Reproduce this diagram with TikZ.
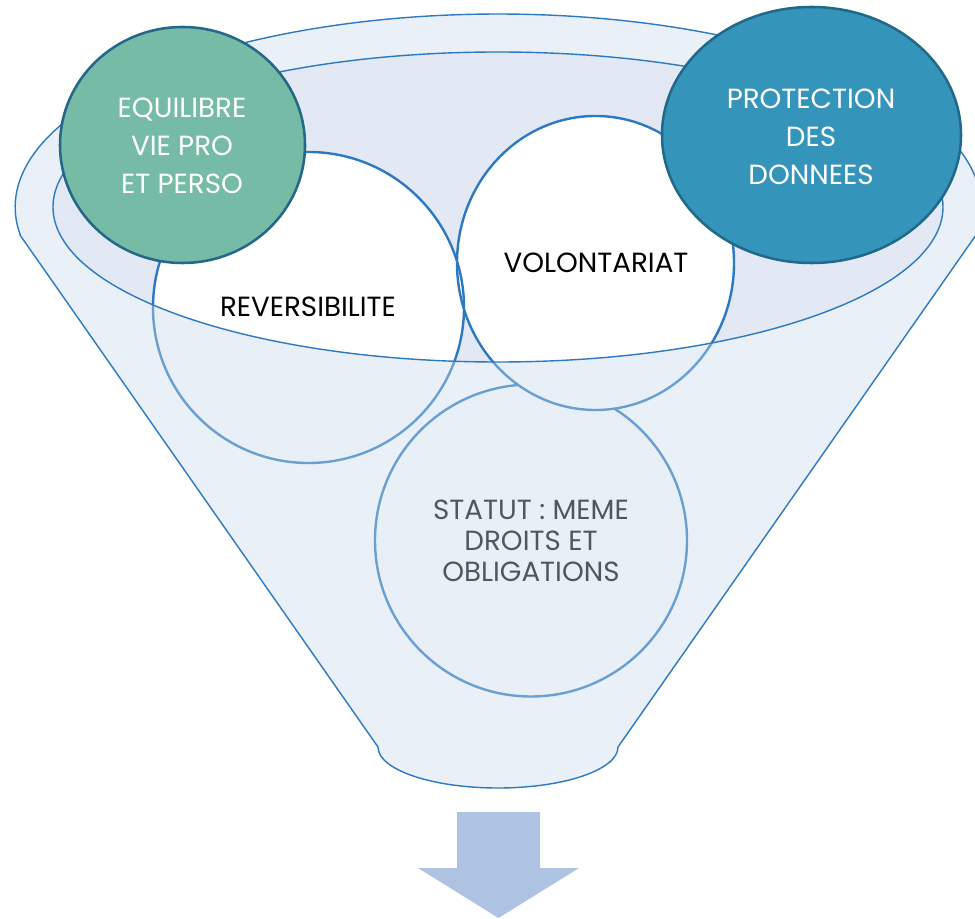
\documentclass[tikz,border=0pt]{standalone}
\usepackage{fontspec}
\setmainfont{Poppins}
\definecolor{lineblue}{HTML}{2C79C2}
\definecolor{innerfill}{HTML}{E2E9F4}
\definecolor{veil}{HTML}{C9D9EC}
\definecolor{greenfill}{HTML}{75BBA5}
\definecolor{greenline}{HTML}{23678A}
\definecolor{bluefill}{HTML}{3594BA}
\definecolor{blueline}{HTML}{21698A}
\definecolor{arrowfill}{HTML}{AEC3E1}
\tikzset{
  funnelline/.style={draw=lineblue, line width=1.05pt},
  backcircle/.style={draw=lineblue, line width=1.8pt},
  label/.style={font=\fontsize{20.8}{28.5}\selectfont, align=center, inner sep=0pt},
}
\begin{document}
\begin{tikzpicture}[x=0.75pt,y=-0.75pt]
\useasboundingbox (0,0) rectangle (975,919);
\clip (0,0) rectangle (975,919);
% inner top of funnel
\fill[innerfill] (498,207) ellipse[x radius=445, y radius=155];
% back circles
\fill[white] (531,540.5) circle[radius=156];
\draw[backcircle] (531,540.5) circle[radius=156];
\node[label, font=\fontsize{20.8}{23.25}\selectfont] (statut) at (531,541) {STATUT : MEME\\DROITS ET\\OBLIGATIONS};
\fill[white] (308.5,307.5) circle[radius=155.5];
\fill[white] (595.5,263) ellipse[x radius=138.5, y radius=147];
\draw[backcircle] (308.5,307.5) circle[radius=155.5];
\draw[backcircle] (595.5,263) ellipse[x radius=138.5, y radius=147];
\node[label] (rev) at (308,307) {REVERSIBILITE};
\node[label] (vol) at (596,263) {VOLONTARIAT};
% front veil of the funnel
\fill[veil, fill opacity=0.4, even odd rule]
  (20,235) -- (378,747) arc[start angle=180, end angle=0, x radius=120, y radius=41]
  -- (976,235) arc[start angle=8.34, end angle=-188.34, x radius=483, y radius=193] -- cycle
  (498,207) ellipse[x radius=445, y radius=155];
% funnel outlines
\draw[funnelline, line join=round]
  (20,235) -- (378,747) arc[start angle=180, end angle=0, x radius=120, y radius=41]
  -- (976,235) arc[start angle=8.34, end angle=-188.34, x radius=483, y radius=193] -- cycle;
\draw[funnelline] (498,207) ellipse[x radius=445, y radius=155];
% front circles
\draw[fill=greenfill, draw=greenline, line width=1.9pt] (182.5,145) ellipse[x radius=122.5, y radius=118];
\node[label, text=white] (equi) at (182,146) {EQUILIBRE\\VIE PRO\\ET PERSO};
\draw[fill=bluefill, draw=blueline, line width=1.9pt] (811.5,135) ellipse[x radius=149.5, y radius=128];
\node[label, text=white] (prot) at (811,137) {PROTECTION\\DES\\DONNEES};
% arrow
\fill[arrowfill] (457,812) -- (540,812) -- (540,868) -- (579,868) -- (498.5,918) -- (418,868) -- (457,868) -- cycle;
\end{tikzpicture}
\end{document}
